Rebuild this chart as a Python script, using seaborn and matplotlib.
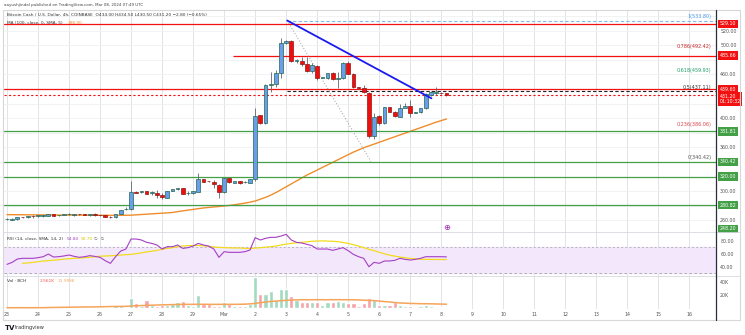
import numpy as np
import pandas as pd
import matplotlib
matplotlib.use("Agg")
import matplotlib.pyplot as plt
import seaborn as sns
from matplotlib.lines import Line2D
from matplotlib.patches import Rectangle
from matplotlib.transforms import blended_transform_factory

# ---------------- data (4h candles, BCH/USD) ----------------
opens = [261.5, 261.0, 261.5, 264.2, 264.0, 266.0, 265.8, 265.5, 266.0, 268.7,
         267.0, 267.2, 268.5, 267.0, 268.5, 268.0, 267.0, 268.7, 267.0, 267.3,
         265.1, 264.0, 268.7, 275.0, 275.0, 299.3, 298.4, 299.8, 298.0, 297.5,
         294.3, 291.1, 300.7, 302.5, 303.9, 297.2, 297.0, 299.3, 316.2, 313.9,
         313.0, 308.4, 298.4, 317.6, 311.6, 313.9, 312.2, 311.6, 316.2, 404.3,
         393.8, 445.0, 446.4, 462.0, 502.5, 506.0, 478.8, 478.8, 473.8, 464.6,
         471.9, 455.5, 454.6, 462.3, 453.2, 454.6, 475.1, 461.0, 442.2, 442.0,
         434.0, 375.6, 403.0, 392.9, 414.8, 408.9, 402.1, 414.5, 416.7, 407.5,
         408.0, 413.5, 431.7, 434.5, 434.9, 434.0]
highs = [263.0, 262.8, 264.5, 264.8, 266.5, 267.5, 267.0, 267.5, 269.2, 269.0,
         268.0, 268.0, 270.5, 269.0, 269.0, 268.6, 269.0, 270.0, 267.6, 267.8,
         265.6, 269.0, 274.6, 277.8, 313.9, 300.0, 300.8, 300.4, 300.7, 301.6,
         297.0, 300.5, 303.0, 304.5, 304.4, 300.2, 300.7, 324.4, 317.0, 314.6,
         315.3, 309.8, 318.0, 318.2, 314.4, 314.5, 313.5, 316.8, 413.5, 405.0,
         446.4, 463.7, 466.0, 509.4, 507.5, 507.1, 481.0, 484.3, 484.3, 475.1,
         472.8, 457.0, 462.0, 463.0, 463.7, 477.4, 478.0, 462.0, 443.0, 445.0,
         436.0, 406.6, 404.0, 415.5, 415.5, 410.0, 419.4, 420.3, 424.9, 409.0,
         414.0, 434.0, 437.0, 442.3, 436.0, 434.5]
lows = [260.5, 260.6, 261.0, 263.5, 263.6, 263.0, 265.0, 265.0, 265.6, 266.0,
        266.0, 266.8, 267.0, 266.6, 267.8, 267.4, 266.6, 266.6, 266.3, 264.8,
        263.4, 263.6, 268.2, 273.8, 274.0, 297.0, 297.6, 296.0, 294.7, 290.2,
        289.3, 290.5, 300.2, 302.0, 295.6, 294.3, 296.5, 298.8, 312.5, 313.0,
        304.0, 291.1, 297.0, 311.6, 311.0, 310.2, 311.0, 311.0, 314.0, 392.0,
        392.5, 436.3, 443.0, 455.0, 501.0, 477.0, 476.0, 472.0, 463.7, 461.4,
        452.3, 454.6, 453.0, 452.0, 440.9, 453.2, 460.0, 441.5, 440.0, 434.0,
        373.0, 371.0, 391.0, 392.0, 408.0, 401.5, 401.5, 413.5, 401.0, 407.0,
        407.0, 412.0, 431.0, 431.7, 433.5, 430.5]
closes = [261.8, 262.5, 264.0, 264.0, 266.0, 265.6, 266.2, 267.0, 268.7, 266.5,
          267.2, 267.4, 268.8, 268.7, 268.2, 267.9, 268.7, 267.0, 266.8, 265.1,
          264.0, 268.7, 274.2, 276.0, 299.3, 297.9, 300.2, 296.6, 298.4, 294.3,
          291.5, 300.2, 302.5, 303.9, 296.1, 297.5, 300.2, 316.2, 313.0, 313.5,
          309.4, 298.4, 317.6, 312.1, 313.9, 310.7, 312.5, 316.2, 403.4, 393.8,
          445.4, 446.4, 462.0, 502.5, 506.0, 478.8, 479.7, 473.8, 464.6, 472.8,
          455.5, 456.4, 461.4, 453.2, 455.5, 475.1, 461.0, 442.2, 441.5, 435.4,
          375.6, 402.1, 392.9, 414.8, 408.9, 403.0, 413.5, 416.7, 406.6, 408.0,
          413.5, 433.1, 436.3, 434.9, 434.2, 431.2]
ma100 = [267.8, 267.8, 267.7, 267.7, 267.6, 267.6, 267.5, 267.5, 267.4, 267.4,
         267.3, 267.3, 267.2, 267.2, 267.1, 267.1, 267.0, 267.0, 267.0, 267.0,
         266.9, 266.9, 266.9, 267.0, 267.1, 267.6, 268.0, 268.5, 268.9, 269.4,
         269.8, 270.3, 270.8, 272.0, 273.0, 274.0, 275.0, 276.0, 277.0, 277.7,
         278.4, 279.0, 279.7, 280.5, 281.4, 282.5, 283.6, 284.9, 286.5, 289.0,
         291.5, 294.5, 298.0, 302.0, 306.0, 310.0, 314.0, 318.0, 322.0, 325.5,
         329.0, 332.5, 336.0, 339.5, 343.0, 346.5, 350.0, 353.5, 356.5, 359.5,
         362.0, 364.5, 367.0, 369.5, 372.0, 374.5, 377.0, 379.5, 382.0, 384.5,
         387.0, 389.5, 392.0, 394.5, 396.7, 398.9]
volumes = [2.1, 2.1, 2.1, 4.1, 2.6, 2.1, 2.6, 1.5, 2.6, 2.6,
           1.5, 1.5, 2.1, 1.5, 2.1, 2.1, 1.5, 2.1, 2.6, 2.1,
           2.6, 4.6, 5.1, 2.6, 16.4, 8.7, 3.6, 12.8, 5.1, 3.6,
           5.1, 5.1, 7.2, 9.2, 10.8, 5.1, 4.1, 20.5, 7.2, 7.2,
           4.1, 4.1, 9.2, 7.2, 4.1, 4.1, 3.6, 7.2, 48.7, 22.6,
           22.1, 26.7, 12.3, 29.2, 30.3, 19.0, 13.3, 9.7, 9.7, 9.7,
           9.7, 5.1, 9.7, 9.7, 11.8, 9.7, 8.2, 8.2, 3.6, 8.2,
           16.4, 12.8, 5.1, 5.1, 5.1, 9.7, 5.1, 3.1, 3.6, 2.6,
           3.6, 5.1, 3.6, 2.6, 2.1, 1.0]
vol_ma = [1.0, 1.0, 1.0, 1.0, 1.0, 1.0, 1.0, 1.1, 1.2, 1.4,
          1.5, 1.6, 1.7, 1.9, 2.0, 2.1, 2.2, 2.3, 2.4, 2.6,
          2.8, 2.9, 3.0, 3.1, 3.6, 4.0, 4.3, 4.6, 4.9, 5.1,
          5.4, 5.6, 5.8, 6.0, 6.2, 6.2, 6.2, 6.3, 6.3, 6.2,
          6.2, 6.2, 6.2, 6.2, 6.2, 6.3, 6.5, 6.9, 7.6, 8.8,
          9.8, 10.6, 11.2, 11.8, 12.4, 12.8, 13.1, 13.3, 13.3, 13.3,
          13.4, 13.3, 13.3, 13.4, 13.4, 13.3, 13.3, 13.2, 13.0, 12.6,
          12.3, 12.0, 11.2, 10.5, 9.9, 9.0, 8.4, 8.0, 7.6, 7.4,
          7.2, 7.1, 7.0, 6.8, 6.6, 6.4]
rsi = [43.3, 46.4, 51.5, 52.6, 52.6, 52.6, 53.6, 55.1, 59.2, 54.6,
       55.1, 56.2, 57.7, 55.6, 54.1, 55.1, 56.7, 55.6, 54.1, 49.0,
       44.9, 55.1, 63.8, 66.9, 82.3, 82.3, 80.8, 77.2, 75.6, 73.1,
       66.9, 70.5, 70.5, 73.1, 67.9, 69.0, 71.5, 75.6, 73.1, 71.5,
       66.9, 54.1, 62.8, 61.8, 61.8, 61.8, 62.8, 65.4, 84.4, 80.8,
       83.3, 84.9, 84.9, 86.9, 89.5, 80.8, 77.2, 76.2, 74.1, 72.1,
       66.9, 66.9, 66.9, 64.9, 66.9, 69.0, 64.4, 58.7, 55.1, 52.6,
       39.7, 46.4, 44.9, 48.5, 48.5, 49.5, 52.6, 51.0, 50.0, 51.0,
       52.6, 55.1, 55.1, 55.1, 55.1, 54.8]
rsi_ma = [np.nan, np.nan, np.nan, 44.9, 45.5, 46.3, 47.5, 48.3, 49.0, 49.8,
          50.5, 51.3, 52.0, 52.6, 53.0, 53.6, 54.2, 55.0, 55.8, 56.2,
          56.5, 57.0, 57.6, 58.2, 58.7, 59.8, 61.0, 62.5, 63.5, 64.8,
          66.5, 67.9, 69.0, 70.5, 71.6, 72.1, 72.4, 72.3, 71.8, 71.0,
          70.0, 69.5, 69.0, 68.8, 68.5, 68.5, 68.0, 67.6, 68.3, 69.0,
          69.8, 70.5, 71.5, 73.1, 74.5, 75.6, 76.5, 77.2, 78.0, 78.8,
          79.2, 79.4, 79.2, 78.8, 78.2, 77.0, 75.5, 73.5, 71.5, 69.0,
          66.5, 64.5, 62.0, 59.5, 57.5, 56.0, 54.6, 53.5, 52.5, 51.8,
          51.2, 51.0, 50.9, 50.8, 50.8, 50.7]

day_labels = ["23", "24", "25", "26", "27", "28", "29", "Mar", "2", "3", "4", "5",
              "6", "7", "8", "9", "10", "11", "12", "13", "14", "15", "16"]
price_ticks = [260, 300, 360, 400, 460, 500, 520]
price_grid = list(range(260, 541, 20))
rsi_ticks = [80, 60, 40]
vol_ticks = [20, 40]
vol_tick_labels = ["20K", "40K"]
vol_legend_values = ["2.561K", "11.999K"]

red_full_levels = [529.10, 439.60]
red_partial_level = 485.66
red_partial_start = 43.7
green_levels = [381.81, 340.42, 320.00, 280.82]
green_tag_extra = 248.20
fib_low, fib_high = 340.42, 533.80
fib_ratios = [1, 0.786, 0.618, 0.5, 0.236, 0]
fib_colors = ["#4a97e6", "#c62828", "#22a06b", "#333333", "#e0474c", "#555555"]
fib_anchor_x = [54.2, 70.4]
trend_x = [54.2, 82.1]
trend_y = [533.8, 427.2]

# ---------------- figure ----------------
sns.set_theme(style="white")
plt.rcParams['font.family'] = ['DejaVu Sans']

W, H = 745, 335
fig = plt.figure(figsize=(W / 100, H / 100), dpi=100)
fig.patch.set_facecolor("white")


def fx(x):
    return x / W


def fy(y):
    return 1 - y / H


L, R = 4, 716
ax = fig.add_axes([fx(L), fy(232), fx(R) - fx(L), fy(10) - fy(232)])
ax_rsi = fig.add_axes([fx(L), fy(276), fx(R) - fx(L), fy(232) - fy(276)], sharex=ax)
ax_vol = fig.add_axes([fx(L), fy(309), fx(R) - fx(L), fy(276) - fy(309)], sharex=ax)

n = len(closes)
df = pd.DataFrame(dict(i=np.arange(n), o=opens, h=highs, l=lows, c=closes,
                       ma=ma100, v=volumes, vma=vol_ma, rsi=rsi, rsi_ma=rsi_ma))
up = (df.c >= df.o).values

xticks = list(range(0, 6 * len(day_labels), 6))
for a in (ax, ax_rsi, ax_vol):
    a.set_facecolor("white")
    for s in a.spines.values():
        s.set_visible(False)
    for t in xticks:
        a.axvline(t, color="#e0e3e9", lw=0.7, zorder=0)
    a.yaxis.tick_right()
    a.tick_params(axis="y", length=0, pad=3, labelsize=3.4, colors="#555555")
    a.tick_params(axis="x", length=0)

ax.set_xlim(-0.58, 137.14)

# ---- main pane ----
ax.set_ylim(244.06, 548.2)
for g in price_grid:
    ax.axhline(g, color="#eef0f3", lw=0.6, zorder=0)

UPF, UPE = "#6c9ded", "#1f6a4e"
DNF, DNE = "#f20d0d", "#8e1616"
ax.vlines(df.i, df.l, df.h, color="#5f6470", lw=0.6, zorder=3)
bot = np.minimum(df.o, df.c)
hgt = np.maximum(np.abs(df.c - df.o), 0.9)
ax.bar(df.i[up], hgt[up], bottom=bot[up], width=0.72, color=UPF, edgecolor=UPE, lw=0.5, zorder=4)
ax.bar(df.i[~up], hgt[~up], bottom=bot[~up], width=0.72, color=DNF, edgecolor=DNE, lw=0.5, zorder=4)

sns.lineplot(data=df, x="i", y="ma", ax=ax, color="#ef8d2b", lw=1.0, zorder=2)

# horizontal levels
for lv in red_full_levels:
    ax.axhline(lv, color="#f21010", lw=0.9, zorder=2)
ax.hlines(red_partial_level, red_partial_start, 137.14, color="#f21010", lw=0.9, zorder=2)
for lv in green_levels:
    ax.axhline(lv, color="#43a047", lw=0.9, zorder=2)
ax.axhline(closes[-1], color="#f21010", lw=0.8, ls=(0, (2, 2)), zorder=2)

# fibonacci
fib_prices = [fib_low + r * (fib_high - fib_low) for r in fib_ratios]
ax.hlines(fib_prices[0], fib_anchor_x[0], 137.14, color="#7fb8ea", lw=0.8, ls=(0, (3, 2)), zorder=2)
ax.hlines(fib_prices[3], fib_anchor_x[0], 137.14, color="#222222", lw=0.8, ls=(0, (3, 2)), zorder=2)
ax.plot(fib_anchor_x, [fib_high, fib_low], color="#9a9a9a", lw=0.7, ls=(0, (1, 2)), zorder=2)
blend = blended_transform_factory(ax.transAxes, ax.transData)
for r, p, col in zip(fib_ratios, fib_prices, fib_colors):
    ax.text(0.994, p + 2.0, f"{r}({p:.2f})", transform=blend, ha="right", va="bottom",
            fontsize=3.5, color=col, zorder=6)

# trend line
ax.plot(trend_x, trend_y, color="#1a1af0", lw=1.3, zorder=5)

ax.set_yticks(price_ticks)
ax.set_yticklabels([f"{v:.2f}" for v in price_ticks])
ax.tick_params(axis="x", labelbottom=False)
ax.set_xlabel("")
ax.set_ylabel("")


def tag(a, y, text, color, dy=0):
    tr = blended_transform_factory(a.transAxes, a.transData)
    a.annotate(text, xy=(1.0, y), xycoords=tr, xytext=(2.5, dy), textcoords="offset points",
               fontsize=3.4, color="white", ha="left", va="center", annotation_clip=False,
               bbox=dict(boxstyle="square,pad=0.35", fc=color, ec="none"), zorder=10,
               linespacing=1.1)


tag(ax, red_full_levels[0], f"{red_full_levels[0]:.2f}", "#f21010")
tag(ax, red_partial_level, f"{red_partial_level:.2f}", "#f21010")
tag(ax, red_full_levels[1], f"{red_full_levels[1]:.2f}", "#f21010")
tag(ax, closes[-1], f"{closes[-1]:.2f}\n01:10:32", "#f21010", dy=-2.5)
for lv in green_levels + [green_tag_extra]:
    tag(ax, lv, f"{lv:.2f}", "#43a047")

# ---- RSI pane ----
ax_rsi.set_ylim(25.4, 93.1)
ax_rsi.axhspan(30, 70, color="#f3e7fb", zorder=0)
ax_rsi.axhline(70, color="#a0a3ab", lw=0.5, ls=(0, (3, 3)), zorder=1)
ax_rsi.axhline(30, color="#a0a3ab", lw=0.6, ls=(0, (3, 3)), zorder=1)
sns.lineplot(data=df, x="i", y="rsi_ma", ax=ax_rsi, color="#f2dc1c", lw=0.9, zorder=3)
sns.lineplot(data=df, x="i", y="rsi", ax=ax_rsi, color="#a43fc4", lw=0.8, zorder=4)
ax_rsi.set_yticks(rsi_ticks)
ax_rsi.set_yticklabels([f"{v:.2f}" for v in rsi_ticks])
ax_rsi.tick_params(axis="x", labelbottom=False)
ax_rsi.set_xlabel("")
ax_rsi.set_ylabel("")

# ---- Volume pane ----
ax_vol.set_ylim(-1.0, 50.0)
vcol = np.where(up, "#a3d9c0", "#f5a5a8")
ax_vol.bar(df.i, df.v, width=0.82, color=vcol, zorder=2)
sns.lineplot(data=df, x="i", y="vma", ax=ax_vol, color="#f5a45a", lw=1.1, zorder=3)
ax_vol.set_yticks(vol_ticks)
ax_vol.set_yticklabels(vol_tick_labels)
ax_vol.set_xticks(xticks)
ax_vol.set_xticklabels(day_labels)
ax_vol.tick_params(axis="x", labelsize=3.4, colors="#555555", pad=2.5)
ax_vol.set_xlabel("")
ax_vol.set_ylabel("")
ax_vol.set_xlim(-0.58, 137.14)

# ---- frame & decorations ----
fig.add_artist(Rectangle((fx(3), fy(320)), fx(740) - fx(3), fy(10) - fy(320),
                         transform=fig.transFigure, fill=False, ec="#d8d8d8", lw=0.8))
for yy in (232, 276):
    fig.add_artist(Line2D([fx(3), fx(740)], [fy(yy), fy(yy)], color="#d6d9df", lw=0.6))
fig.add_artist(Line2D([fx(716), fx(716)], [fy(10), fy(320)], color="#2a2e39", lw=0.9))

fig.text(fx(4), fy(5), "aayushjindal published on TradingView.com, Mar 08, 2024 07:49 UTC",
         fontsize=2.9, color="#444444", va="center")
fig.text(fx(7), fy(15.5), "Bitcoin Cash / U.S. Dollar, 4h, COINBASE  O434.00 H434.50 L430.50 C431.20 \u22122.80 (\u22120.65%)",
         fontsize=3.1, color="#333333", va="center")
fig.text(fx(7), fy(23.5), "MA (100, close, 0, SMA, 5)", fontsize=3.1, color="#333333", va="center")
fig.text(fx(68), fy(23.5), f"{ma100[-1]:.2f}", fontsize=3.1, color="#ef8d2b", va="center")

fig.text(fx(7), fy(239), "RSI (14, close, SMA, 14, 2)", fontsize=3.1, color="#333333", va="center")
fig.text(fx(67), fy(239), f"{rsi[-1]:.2f}", fontsize=3.1, color="#a43fc4", va="center")
fig.text(fx(81), fy(239), f"{rsi_ma[-1]:.2f}", fontsize=3.1, color="#d8c200", va="center")
fig.text(fx(94), fy(239), "\u2205  \u2205", fontsize=3.1, color="#555555", va="center")

fig.text(fx(7), fy(281), "Vol \u00b7 BCH", fontsize=3.1, color="#333333", va="center")
fig.text(fx(40), fy(281), vol_legend_values[0], fontsize=3.1, color="#ef5350", va="center")
fig.text(fx(58), fy(281), vol_legend_values[1], fontsize=3.1, color="#f5a45a", va="center")

fig.text(fx(447), fy(227), "\u2295", fontsize=6, color="#9c27b0", ha="center", va="center")

fig.text(fx(5), fy(327.5), "TV", fontsize=5, color="#131722", fontweight="bold", va="center")
fig.text(fx(15), fy(327.5), "tradingview", fontsize=3.6, color="#333333", va="center")

fig.savefig("out.png", dpi=100, facecolor="white")
